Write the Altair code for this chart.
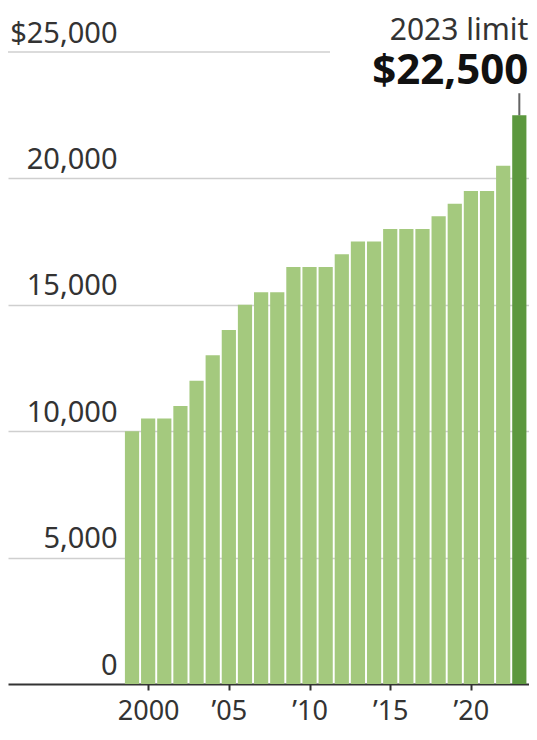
import altair as alt
import pandas as pd

years = list(range(1999, 2024))
limits = [10000, 10500, 10500, 11000, 12000, 13000, 14000, 15000, 15500, 15500,
          16500, 16500, 16500, 17000, 17500, 17500, 18000, 18000, 18000, 18500,
          19000, 19500, 19500, 20500, 22500]
y_ticks = [0, 5000, 10000, 15000, 20000, 25000]
x_ticks = [2000, 2005, 2010, 2015, 2020]
note_year = 2023
note_value = 22500
note_title = "2023 limit"
note_label = "$22,500"

df = pd.DataFrame({"year": years, "limit": limits})
note = pd.DataFrame({"year": [note_year], "limit": [note_value],
                     "title": [note_title], "label": [note_label]})

SANS = "Noto Sans"

xscale = alt.Scale(domain=[1991.315, 2023.6], nice=False, zero=False)
yscale = alt.Scale(domain=[0, 25000], nice=False)

xaxis = alt.Axis(values=x_ticks, title=None, grid=False,
                 labelExpr="datum.value == 2000 ? '2000' : '\u2019' + substring(toString(datum.value), 2)",
                 labelFont=SANS, labelFontSize=27, labelColor="#333",
                 labelPadding=8, labelFlush=False, labelBaseline="top",
                 domain=True, domainColor="#333", domainWidth=2,
                 ticks=True, tickColor="#333", tickWidth=2, tickSize=6)

yaxis = alt.Axis(values=y_ticks, title=None, grid=True,
                 gridColor={"condition": {"test": "datum.value == 25000 || datum.value == 0",
                                          "value": "transparent"}, "value": "#cfcfcf"},
                 gridWidth=1.5,
                 labelExpr="datum.value == 25000 ? '$25,000' : format(datum.value, ',')",
                 labelFont=SANS, labelFontSize=29, labelColor="#333",
                 labelAlign="right", labelBaseline="alphabetic", labelPadding=-109,
                 labelOffset=-10, labelFlush=False, labelOverlap=False,
                 domain=False, ticks=False, tickSize=0)

top_grid = alt.Chart(note).mark_rule(color="#cfcfcf", strokeWidth=1.5).encode(
    y=alt.datum(25000, scale=yscale),
    x=alt.value(0), x2=alt.value(322))

bars = alt.Chart(df).transform_calculate(
    x0="datum.year - 0.44", x1="datum.year + 0.44"
).mark_rect(stroke=None).encode(
    x=alt.X("x0:Q", scale=xscale, axis=xaxis),
    x2="x1:Q",
    y=alt.Y("limit:Q", scale=yscale, axis=yaxis),
    y2=alt.datum(0),
    color=alt.condition(alt.datum.year == note_year, alt.value("#5c983e"), alt.value("#a4c97e")),
)

tick = alt.Chart(note).mark_tick(orient="vertical", color="#222", thickness=2, size=22,
                                 yOffset=-11).encode(
    x=alt.X("year:Q", scale=xscale), y=alt.Y("limit:Q", scale=yscale))

title_txt = alt.Chart(note).mark_text(align="right", baseline="alphabetic", dx=9, dy=-75,
                                      font=SANS, fontSize=30, color="#333").encode(
    x=alt.X("year:Q", scale=xscale), y=alt.Y("limit:Q", scale=yscale), text="title:N")

label_txt = alt.Chart(note).mark_text(align="right", baseline="alphabetic", dx=9, dy=-31,
                                      font=SANS, fontSize=42, fontWeight="bold", color="#111").encode(
    x=alt.X("year:Q", scale=xscale), y=alt.Y("limit:Q", scale=yscale), text="label:N")

chart = alt.layer(top_grid, bars, tick, title_txt, label_txt).properties(
    width=521, height=632,
    padding={"left": 0, "top": 44, "right": 0, "bottom": 44},
    autosize=alt.AutoSizeParams(type="none"),
    background="white",
).configure_view(stroke=None)

chart.save("out.html", embed_options={"renderer": "svg", "actions": False})
